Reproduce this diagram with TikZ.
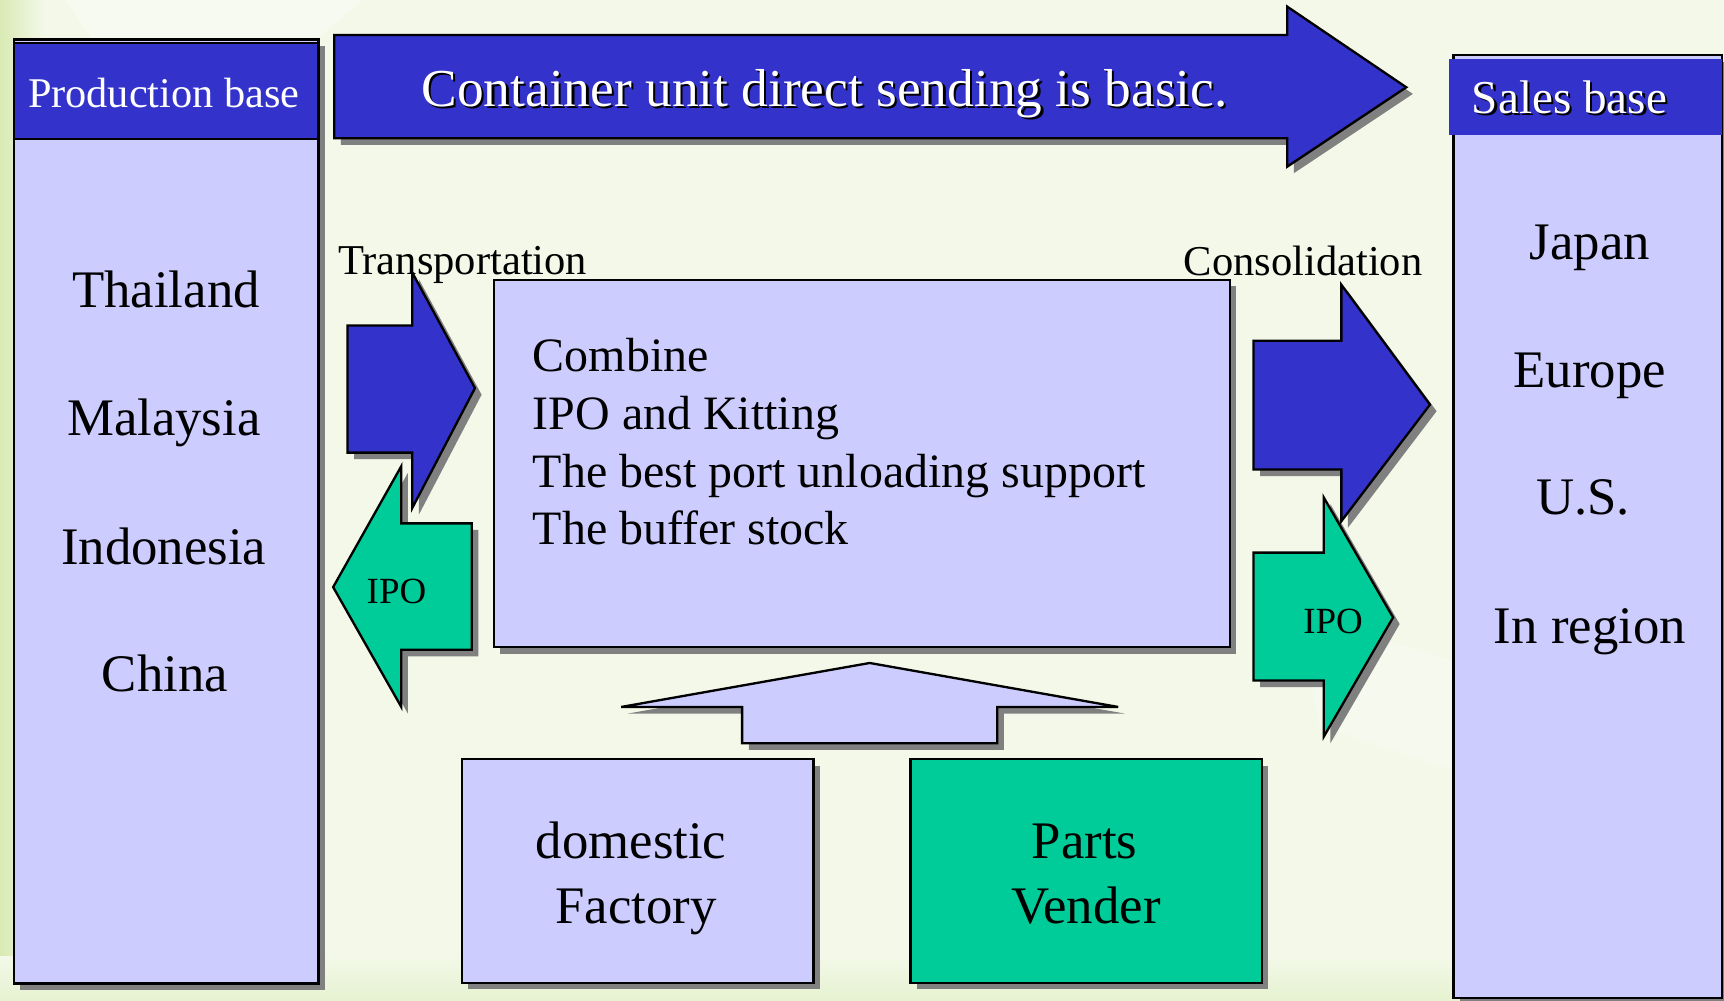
\documentclass[tikz,border=0pt]{standalone}
\usepackage{fontspec}
\setmainfont{Liberation Serif}
\usetikzlibrary{shadows}
\definecolor{hdrblue}{HTML}{3333CC}
\definecolor{lav}{HTML}{CCCCFF}
\definecolor{ipogreen}{HTML}{00CC99}
\definecolor{shgray}{HTML}{808080}
\definecolor{bgc}{HTML}{F3F8E8}
\definecolor{bgleft}{HTML}{D9EAB4}
\definecolor{bgbottom}{HTML}{E6F2D0}
\newcommand\fsProd{\fontsize{10.95pt}{13pt}\selectfont}
\newcommand\fsBig{\fontsize{13.8pt}{16pt}\selectfont}
\newcommand\fsSales{\fontsize{12.2pt}{14pt}\selectfont}
\newcommand\fsCountry{\fontsize{13.65pt}{16pt}\selectfont}
\newcommand\fsLabel{\fontsize{11pt}{13pt}\selectfont}
\newcommand\fsCenter{\fontsize{12.4pt}{15pt}\selectfont}
\newcommand\fsIPO{\fontsize{9.55pt}{11pt}\selectfont}
\begin{document}
\begin{tikzpicture}[x=0.01cm,y=-0.01cm,
  shp/.style={draw=black, line width=0.6pt,
    drop shadow={shadow xshift=0.06cm, shadow yshift=-0.06cm, fill=shgray, opacity=1}},
  txt/.style={inner sep=0pt, anchor=base},
  txtw/.style={inner sep=0pt, anchor=base west}]
\useasboundingbox (0,0) rectangle (1568,910);
% background
\fill[bgc] (0,0) rectangle (1568,910);
\shade[left color=bgleft, right color=bgc] (0,0) rectangle (40,910);
\shade[top color=bgc, bottom color=bgbottom] (0,870) rectangle (1568,910);
\fill[white, opacity=0.35] (60,0) -- (330,0) -- (260,60) -- (120,90) -- cycle;
\fill[white, opacity=0.3] (1180,560) -- (1320,600) -- (1320,700) -- (1200,660) -- cycle;

% left production base box
\path[shp, fill=lav] (12.6,36) rectangle (289.6,894.4);
\path[draw=black, line width=0.6pt, fill=hdrblue] (12.6,39) rectangle (289.6,126.4);
\node[txt, font=\fsProd, text=white] (prod) at (149,97.6) {Production base};
\node[txt, font=\fsCountry] (thai) at (151,280) {Thailand};
\node[txt, font=\fsCountry] (malay) at (149,396) {Malaysia};
\node[txt, font=\fsCountry] (indo) at (149,513) {Indonesia};
\node[txt, font=\fsCountry] (china) at (150,629) {China};

% big top arrow
\path[shp, fill=hdrblue] (304,31.8) -- (1170.7,31.8) -- (1170.7,6) -- (1279,79.4)
  -- (1170.7,151.6) -- (1170.7,125.8) -- (304,125.8) -- cycle;
\node[txt, font=\fsBig, text=black] (bigsh) at (752,99) {Container unit direct sending is basic.};
\node[txt, font=\fsBig, text=white] (big) at (750,97) {Container unit direct sending is basic.};

% sales base box
\path[shp, fill=lav] (1322,50) rectangle (1566,908);
\fill[hdrblue] (1318,54) rectangle (1566,123);
\node[txt, font=\fsSales, text=black] (salessh) at (1429.5,105) {Sales base};
\node[txt, font=\fsSales, text=white] (sales) at (1427.5,103) {Sales base};
\node[txt, font=\fsCountry] (japan) at (1446,236) {Japan};
\node[txt, font=\fsCountry] (europe) at (1446,352.6) {Europe};
\node[txt, font=\fsCountry] (us) at (1440,468.4) {U.S.};
\node[txt, font=\fsCountry] (inreg) at (1446,585.6) {In region};

% labels
\node[txtw, font=\fsLabel] (transp) at (307,250) {Transportation};
\node[txtw, font=\fsLabel] (consol) at (1076,250.5) {Consolidation};

% center box
\path[shp, fill=lav] (449,254.5) rectangle (1118.5,588.5);
\node[txtw, font=\fsCenter] (c1) at (484,338) {Combine};
\node[txtw, font=\fsCenter] (c2) at (484,390.5) {IPO and Kitting};
\node[txtw, font=\fsCenter] (c3) at (484,443) {The best port unloading support};
\node[txtw, font=\fsCenter] (c4) at (484,495) {The buffer stock};

% left arrows
\path[shp, fill=ipogreen] (303,534) -- (365,424) -- (365,476) -- (429,476) -- (429,591)
  -- (365,591) -- (365,643) -- cycle;
\node[txt, font=\fsIPO] (ipoL) at (360.6,548.7) {IPO};
\path[shp, fill=hdrblue] (316,296) -- (375,296) -- (375,248) -- (432,353) -- (375,462)
  -- (375,411.7) -- (316,411.7) -- cycle;

% right arrows
\path[shp, fill=ipogreen] (1140,502.6) -- (1204,502.6) -- (1204,452.5) -- (1267,561.6)
  -- (1204,670) -- (1204,619) -- (1140,619) -- cycle;
\node[txt, font=\fsIPO] (ipoR) at (1212.5,576) {IPO};
\path[shp, fill=hdrblue] (1140,310) -- (1220,310) -- (1220,259) -- (1300.6,368)
  -- (1220,474) -- (1220,427) -- (1140,427) -- cycle;

% up arrow
\path[shp, fill=lav] (565,643) -- (791,603) -- (1017,643) -- (907,643) -- (907,676)
  -- (675,676) -- (675,643) -- cycle;

% bottom boxes
\path[shp, fill=lav] (420,690.6) rectangle (740,893.8);
\node[txt, font=\fsCountry] (dom1) at (574,780.6) {domestic};
\node[txt, font=\fsCountry] (dom2) at (578.6,839.8) {Factory};
\path[shp, fill=ipogreen] (828,690.6) rectangle (1147.5,893.8);
\node[txt, font=\fsCountry] (pv1) at (986.4,780.6) {Parts};
\node[txt, font=\fsCountry] (pv2) at (987.7,839.8) {Vender};
\end{tikzpicture}
\end{document}
